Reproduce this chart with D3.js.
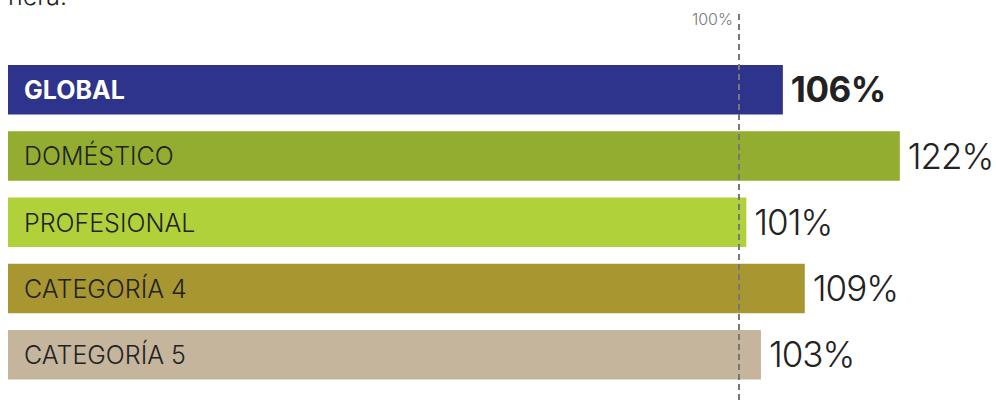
<!DOCTYPE html>
<html>
<head>
<meta charset="utf-8">
<script src="https://cdn.jsdelivr.net/npm/d3@7"></script>
<style>
  body { margin: 0; background: #fff; }
  svg { display: block; font-family: Inter, "Noto Sans", sans-serif; }
</style>
</head>
<body>
<div class="chart"></div>
<script>
// data
var categories = ["GLOBAL", "DOMÉSTICO", "PROFESIONAL", "CATEGORÍA 4", "CATEGORÍA 5"];
var values = [106, 122, 101, 109, 103];
var valueLabels = ["106%", "122%", "101%", "109%", "103%"];
var refValue = 100;
var refLabel = "100%";
var colors = ["#2e338c", "#93ad31", "#b1d13a", "#a89631", "#c4b59c"];

var svgWidth = 996;
var svgHeight = 400;

var svg = d3.select(".chart")
  .append("svg")
  .attr("width", svgWidth)
  .attr("height", svgHeight);

// 0..100 maps from bar start to the dashed reference line
var x = d3.scaleLinear().domain([0, 100]).range([8, 739]);
var y = d3.scaleBand().domain(categories).range([65, 379.5]).paddingInner(0.253).paddingOuter(0);

// tail of the paragraph above, cut by the frame
svg.append("text")
  .attr("x", 8)
  .attr("y", 5)
  .attr("font-size", 25)
  .attr("font-weight", 300)
  .attr("fill", "#222")
  .text("nera.");

var rows = svg.selectAll(".row")
  .data(categories)
  .enter()
  .append("g")
  .attr("class", "row");

rows.append("rect")
  .attr("x", x(0))
  .attr("y", function(d) { return y(d); })
  .attr("width", function(d, i) { return x(values[i]) - x(0); })
  .attr("height", y.bandwidth())
  .attr("fill", function(d, i) { return colors[i]; });

rows.append("text")
  .attr("x", x(0) + 16)
  .attr("y", function(d) { return y(d) + y.bandwidth() / 2; })
  .attr("dy", "0.37em")
  .attr("font-size", 25)
  .attr("font-weight", function(d, i) { return i == 0 ? 700 : 300; })
  .attr("fill", function(d, i) { return i == 0 ? "#fff" : "#222"; })
  .text(function(d) { return d; });

rows.append("text")
  .attr("x", function(d, i) { return x(values[i]) + 8; })
  .attr("y", function(d) { return y(d) + y.bandwidth() / 2; })
  .attr("dy", "0.36em")
  .attr("font-size", 35)
  .attr("letter-spacing", function(d, i) { return i == 0 ? -0.5 : -1; })
  .attr("font-weight", function(d, i) { return i == 0 ? 700 : 300; })
  .attr("fill", "#222")
  .text(function(d, i) { return valueLabels[i]; });

// reference line at 100%
svg.append("line")
  .attr("x1", x(refValue))
  .attr("x2", x(refValue))
  .attr("y1", 14)
  .attr("y2", svgHeight)
  .attr("stroke", "#777")
  .attr("stroke-width", 2)
  .attr("stroke-dasharray", "6,4");

svg.append("text")
  .attr("x", x(refValue) - 6)
  .attr("y", 25)
  .attr("text-anchor", "end")
  .attr("font-size", 16)
  .attr("font-weight", 300)
  .attr("fill", "#777")
  .text(refLabel);
</script>
</body>
</html>
